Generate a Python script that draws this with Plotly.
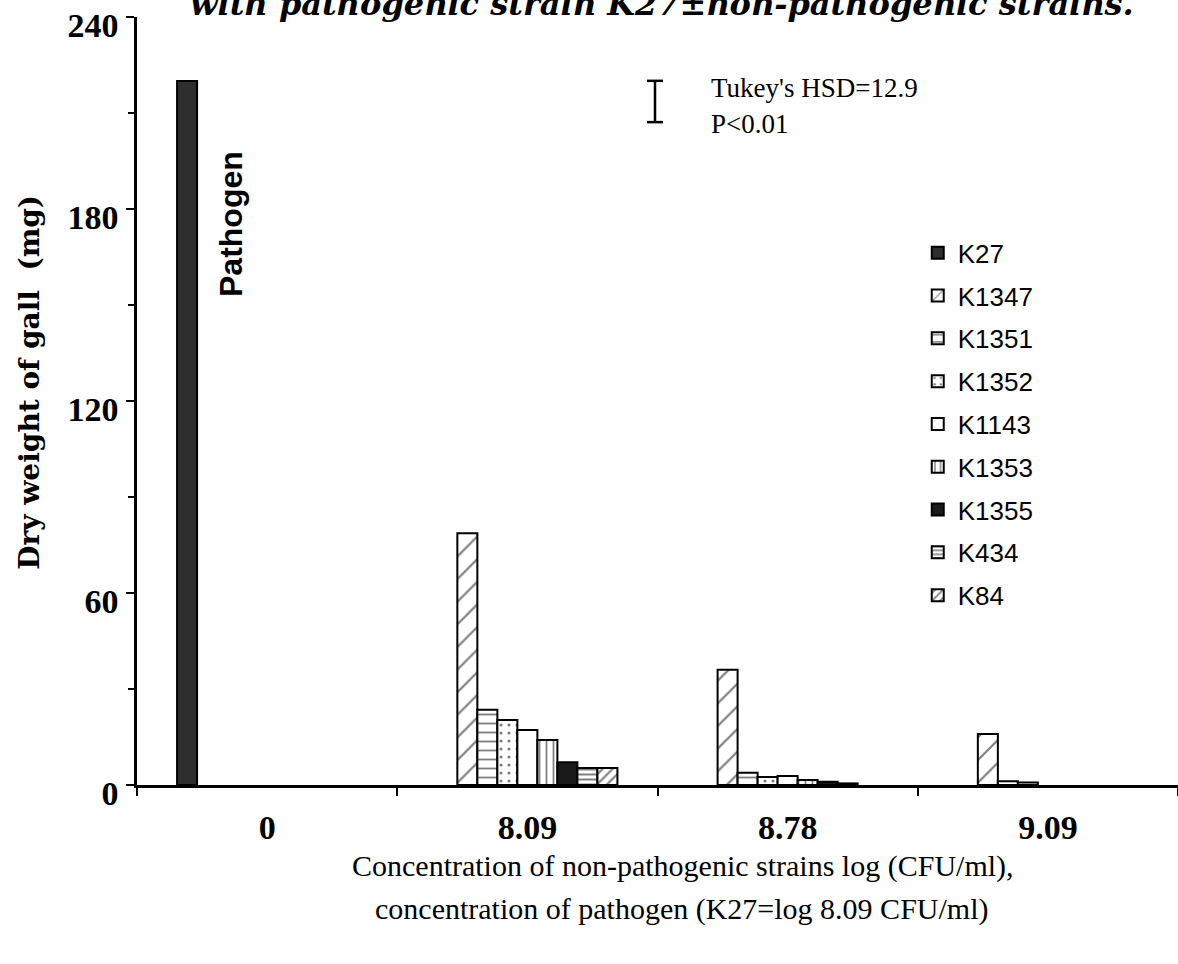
import plotly.graph_objects as go

categories = ["0", "8.09", "8.78", "9.09"]
strains = ["K27", "K1347", "K1351", "K1352", "K1143", "K1353", "K1355", "K434", "K84"]
K27 = [220, None, None, None]
K1347 = [None, 78.7, 36.0, 15.9]
K1351 = [None, 23.5, 3.8, 1.2]
K1352 = [None, 20.3, 2.5, 0.8]
K1143 = [None, 17.2, 2.8, None]
K1353 = [None, 14.1, 1.6, None]
K1355 = [None, 7.1, 1.0, None]
K434 = [None, 5.3, 0.5, None]
K84 = [None, 5.3, None, None]
values = [K27, K1347, K1351, K1352, K1143, K1353, K1355, K434, K84]

y_ticks = [0, 60, 120, 180, 240]
y_minor = [30, 90, 150, 210]
hsd = 12.9
hsd_center = 213.6

styles = {
    "K27": dict(color="#2e2e2e"),
    "K1347": dict(color="white", pattern=dict(shape="/", size=16, solidity=0.14, fgcolor="black", bgcolor="white", fillmode="overlay")),
    "K1351": dict(color="white", pattern=dict(shape="-", size=9, solidity=0.2, fgcolor="black", bgcolor="white", fillmode="overlay")),
    "K1352": dict(color="white", pattern=dict(shape=".", size=8, solidity=0.12, fgcolor="black", bgcolor="white", fillmode="overlay")),
    "K1143": dict(color="white"),
    "K1353": dict(color="white", pattern=dict(shape="|", size=7, solidity=0.25, fgcolor="black", bgcolor="white", fillmode="overlay")),
    "K1355": dict(color="#1a1a1a"),
    "K434": dict(color="white", pattern=dict(shape="-", size=5, solidity=0.4, fgcolor="black", bgcolor="white", fillmode="overlay")),
    "K84": dict(color="white", pattern=dict(shape="/", size=7, solidity=0.3, fgcolor="black", bgcolor="white", fillmode="overlay")),
}

fig = go.Figure()
for name, vals in zip(strains, values):
    m = dict(styles[name])
    m["line"] = dict(color="black", width=2)
    fig.add_trace(go.Bar(x=categories, y=vals, name=name, marker=m, legendgroup=name))

serif = "Liberation Serif"
fig.update_layout(
    width=1178, height=964,
    margin=dict(l=137, r=0, t=17, b=179),
    paper_bgcolor="white", plot_bgcolor="white",
    barmode="group", bargap=0.308, bargroupgap=0,
    showlegend=True,
    legend=dict(x=0.75, y=0.7235, xanchor="left", yanchor="top",
                font=dict(family="Liberation Sans", size=26, color="black"),
                tracegroupgap=6, bgcolor="rgba(0,0,0,0)"),
    xaxis=dict(type="category", categoryorder="array", categoryarray=categories,
               range=[-0.5, 3.5], showline=True, linewidth=2.5, linecolor="black",
               ticks="outside", tickson="boundaries", ticklen=8, tickwidth=2, tickcolor="black",
               tickfont=dict(family=serif, size=34, weight="bold", color="black"),
               ticklabelstandoff=10, showgrid=False, zeroline=False),
    yaxis=dict(range=[0, 240], tickvals=y_ticks, ticktext=[str(v) for v in y_ticks],
               showline=True, linewidth=2.5, linecolor="black",
               ticks="outside", ticklen=8, tickwidth=2, tickcolor="black",
               minor=dict(tickvals=y_minor, ticks="outside", ticklen=6, tickwidth=2, tickcolor="black"),
               tickfont=dict(family=serif, size=34, weight="bold", color="black"),
               ticklabelstandoff=1, ticklabelshift=8, ticklabeloverflow="allow",
               showgrid=False, zeroline=False),
)

annotations = [
    dict(text="with pathogenic strain K27±non-pathogenic strains.", xref="paper", yref="paper",
         x=0.504, y=1.017, xanchor="center", yanchor="middle", showarrow=False,
         font=dict(family="DejaVu Serif", size=32, weight="bold", style="italic", color="black")),
    dict(text="Dry weight of gall  (mg)", xref="paper", yref="paper", textangle=-90,
         x=-0.1028, y=0.525, xanchor="center", yanchor="middle", showarrow=False,
         font=dict(family="DejaVu Serif", size=28, weight="bold", color="black")),
    dict(text="Pathogen", xref="paper", yref="paper", textangle=-90,
         x=(231 - 137) / 1041, y=(785 - 224) / 768, xanchor="center", yanchor="middle", showarrow=False,
         font=dict(family="Liberation Sans", size=32, weight="bold", color="black")),
    dict(text="Tukey's HSD=12.9", xref="paper", yref="paper",
         x=(709 - 137) / 1041, y=(785 - 88) / 768, xanchor="left", yanchor="middle", showarrow=False,
         font=dict(family=serif, size=27, color="black")),
    dict(text="P<0.01", xref="paper", yref="paper",
         x=(709 - 137) / 1041, y=(785 - 124) / 768, xanchor="left", yanchor="middle", showarrow=False,
         font=dict(family=serif, size=27, color="black")),
    dict(text="Concentration of non-pathogenic strains log (CFU/ml),", xref="paper", yref="paper",
         x=(683 - 137) / 1041, y=(785 - 866) / 768, xanchor="center", yanchor="middle", showarrow=False,
         font=dict(family=serif, size=30, color="black")),
    dict(text="concentration of pathogen (K27=log 8.09 CFU/ml)", xref="paper", yref="paper",
         x=(681 - 137) / 1041, y=(785 - 909) / 768, xanchor="center", yanchor="middle", showarrow=False,
         font=dict(family=serif, size=30, color="black")),
]
fig.update_layout(annotations=annotations)

# Tukey HSD bar
xc = (655 - 137) / 1041
cap = 8 / 1041
shapes = [
    dict(type="line", xref="paper", yref="y", x0=xc, x1=xc, y0=hsd_center - hsd / 2, y1=hsd_center + hsd / 2,
         line=dict(color="black", width=2.5)),
    dict(type="line", xref="paper", yref="y", x0=xc - cap, x1=xc + cap, y0=hsd_center - hsd / 2, y1=hsd_center - hsd / 2,
         line=dict(color="black", width=2.5)),
    dict(type="line", xref="paper", yref="y", x0=xc - cap, x1=xc + cap, y0=hsd_center + hsd / 2, y1=hsd_center + hsd / 2,
         line=dict(color="black", width=2.5)),
]
fig.update_layout(shapes=shapes)

fig.write_html("out.html")
